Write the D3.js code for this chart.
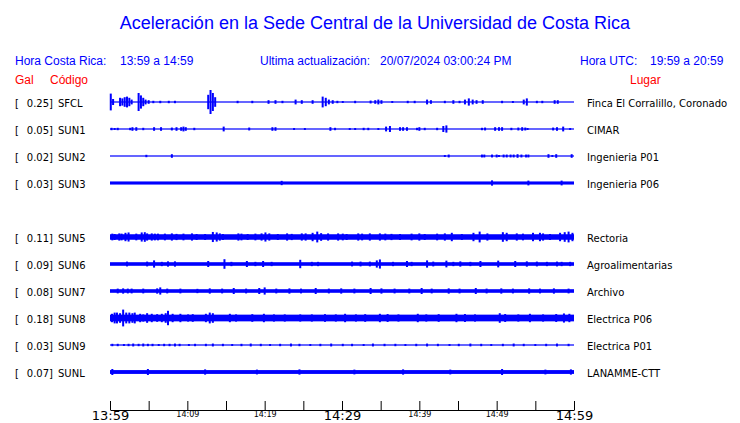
<!DOCTYPE html>
<html><head><meta charset="utf-8">
<script src="https://cdn.jsdelivr.net/npm/d3@7"></script>
<style>body{margin:0;background:#fff}svg{display:block}</style>
</head><body>
<script>
// ---------- DATA ----------
const title = "Aceleración en la Sede Central de la Universidad de Costa Rica";
const horaCR = "13:59 a 14:59";
const actualizacion = "20/07/2024 03:00:24 PM";
const horaUTC = "19:59 a 20:59";
const stations = ["SFCL","SUN1","SUN2","SUN3","SUN5","SUN6","SUN7","SUN8","SUN9","SUNL"];
const gals = [0.25,0.05,0.02,0.03,0.11,0.09,0.08,0.18,0.03,0.07];
const lugares = ["Finca El Corralillo, Coronado","CIMAR","Ingenieria P01","Ingenieria P06","Rectoria","Agroalimentarias","Archivo","Electrica P06","Electrica P01","LANAMME-CTT"];
const tickMinutes = [0,5,10,15,20,25,30,35,40,45,50,55,60];
const tickLabels = ["13:59","","14:09","","14:19","","14:29","","14:39","","14:49","","14:59"];
const majorLabels = ["13:59","14:29","14:59"];
// background noise level (relative amplitude) per station
const baseAmp = [0.05,0.05,0.04,0.13,0.23,0.15,0.15,0.28,0.05,0.16];
// events: [minute after 13:59, relative amplitude]
const evSFCL = [[0.1,0.7],[0.4,0.25],[1.3,0.35],[1.6,0.3],[1.9,0.4],[2.2,0.45],[2.5,0.35],[2.8,0.2],[3.7,0.75],[4.0,0.55],[4.3,0.35],[4.6,0.2],[5.0,0.15],[5.6,0.1],[6.5,0.1],[7.6,0.1],[8.4,0.1],[12.7,0.6],[13.0,1.0],[13.3,0.75],[13.6,0.4],[16.5,0.1],[18.4,0.1],[20.5,0.15],[21.4,0.15],[22.3,0.1],[24.0,0.2],[24.8,0.15],[26.2,0.15],[27.5,0.45],[27.9,0.35],[28.3,0.2],[28.8,0.15],[29.4,0.1],[30.1,0.08],[31.7,0.1],[33.7,0.12],[34.3,0.15],[34.7,0.2],[35.1,0.15],[36.5,0.08],[38.5,0.1],[39.4,0.1],[41.0,0.2],[41.5,0.15],[43.3,0.1],[44.4,0.15],[45.2,0.1],[45.9,0.2],[46.4,0.3],[46.9,0.2],[47.4,0.15],[48.2,0.15],[50.7,0.1],[52.1,0.08],[53.5,0.2],[53.9,0.3],[55.2,0.1],[55.9,0.1],[57.5,0.15],[57.9,0.15]];
const evSUN1 = [[0.2,0.1],[0.6,0.08],[1.0,0.1],[2.6,0.1],[2.9,0.15],[3.4,0.15],[4.3,0.1],[5.7,0.15],[6.6,0.15],[8.0,0.12],[8.6,0.15],[9.2,0.15],[9.5,0.2],[9.8,0.15],[10.9,0.1],[14.7,0.2],[18.0,0.12],[21.0,0.15],[21.4,0.15],[23.8,0.08],[25.2,0.08],[28.5,0.15],[29.1,0.1],[31.0,0.08],[31.7,0.08],[32.8,0.1],[33.4,0.1],[34.7,0.08],[35.7,0.2],[36.2,0.25],[37.5,0.15],[37.9,0.15],[38.4,0.15],[39.7,0.1],[40.0,0.15],[40.7,0.1],[42.3,0.1],[43.1,0.25],[43.5,0.3],[48.1,0.1],[48.5,0.12],[49.8,0.15],[50.3,0.15],[50.7,0.15],[51.9,0.1],[52.8,0.12],[53.3,0.15],[53.7,0.12],[54.0,0.08],[57.3,0.12],[57.8,0.15],[58.6,0.2],[59.5,0.08]];
const evSUN2 = [[4.7,0.1],[8.0,0.15],[43.3,0.08],[43.8,0.12],[48.1,0.12],[48.4,0.12],[49.4,0.12],[50.0,0.12],[50.3,0.08],[50.9,0.12],[51.3,0.12],[51.8,0.12],[52.2,0.12],[52.7,0.15],[53.2,0.12],[53.8,0.12],[54.1,0.12],[56.7,0.15],[57.2,0.08],[57.7,0.15],[59.7,0.15]];
const evSUN3 = [[22.2,0.18],[49.4,0.22],[54.1,0.2],[58.4,0.2]];
const evSUN5 = [[0.3,0.28],[0.6,0.25],[1.2,0.3],[1.5,0.28],[2.0,0.35],[2.4,0.38],[3.4,0.28],[4.1,0.38],[4.5,0.4],[4.8,0.3],[5.4,0.3],[5.8,0.28],[6.2,0.28],[7.1,0.28],[8.0,0.3],[8.6,0.26],[9.5,0.28],[10.6,0.3],[11.2,0.25],[12.3,0.25],[13.3,0.42],[13.8,0.38],[14.2,0.3],[14.6,0.25],[16.6,0.3],[17.0,0.28],[17.8,0.25],[18.8,0.28],[19.6,0.3],[20.1,0.38],[20.6,0.3],[21.7,0.25],[22.9,0.3],[23.5,0.26],[24.8,0.3],[25.3,0.3],[26.2,0.35],[26.8,0.45],[27.3,0.32],[28.2,0.3],[29.5,0.3],[30.1,0.28],[30.6,0.25],[32.1,0.3],[32.6,0.28],[33.6,0.3],[34.9,0.3],[35.6,0.28],[36.4,0.26],[37.5,0.25],[39.0,0.28],[40.0,0.3],[40.7,0.25],[42.3,0.28],[43.3,0.3],[44.2,0.35],[45.5,0.25],[47.0,0.35],[47.8,0.45],[48.8,0.3],[50.8,0.4],[51.3,0.35],[52.6,0.3],[53.4,0.28],[54.7,0.35],[55.6,0.35],[56.0,0.3],[56.9,0.25],[58.2,0.35],[58.8,0.4],[59.3,0.45],[59.8,0.35]];
const evSUN6 = [[2.2,0.2],[4.8,0.2],[5.7,0.3],[6.7,0.18],[7.5,0.22],[8.4,0.22],[12.7,0.25],[14.8,0.4],[15.7,0.18],[17.7,0.25],[18.8,0.18],[19.8,0.25],[20.9,0.18],[24.6,0.35],[26.1,0.18],[26.9,0.18],[31.3,0.2],[32.4,0.2],[33.6,0.2],[34.5,0.3],[34.9,0.38],[36.6,0.18],[38.4,0.25],[39.0,0.18],[41.0,0.3],[41.8,0.2],[43.5,0.28],[44.4,0.18],[45.3,0.22],[46.6,0.18],[47.9,0.25],[50.2,0.28],[52.4,0.25],[53.9,0.22],[55.2,0.2],[56.5,0.18],[57.8,0.2],[58.4,0.18],[59.5,0.18]];
const evSUN7 = [[1.0,0.2],[1.7,0.22],[2.3,0.2],[2.8,0.2],[4.3,0.2],[6.1,0.22],[6.5,0.3],[7.4,0.2],[9.1,0.2],[11.3,0.18],[12.9,0.22],[14.5,0.2],[16.0,0.25],[17.6,0.2],[19.3,0.25],[20.0,0.3],[21.5,0.2],[23.2,0.22],[24.7,0.2],[26.6,0.25],[28.3,0.2],[29.9,0.22],[31.6,0.2],[33.7,0.25],[35.1,0.22],[36.8,0.2],[38.7,0.2],[40.3,0.25],[41.6,0.2],[43.8,0.22],[45.2,0.2],[47.3,0.25],[48.7,0.2],[50.6,0.22],[52.1,0.2],[54.2,0.22],[55.6,0.2],[57.4,0.22],[59.3,0.2]];
const evSUN8 = [[0.26,0.35],[0.6,0.45],[0.9,0.45],[1.3,0.4],[1.7,0.7],[2.1,0.45],[2.5,0.45],[2.9,0.4],[3.2,0.45],[3.9,0.35],[4.3,0.3],[4.8,0.4],[5.4,0.35],[6.1,0.32],[6.7,0.35],[7.2,0.4],[7.5,0.6],[8.1,0.35],[9.1,0.35],[10.1,0.3],[10.7,0.32],[12.4,0.35],[12.9,0.45],[13.3,0.4],[15.5,0.35],[16.3,0.3],[18.4,0.32],[19.9,0.35],[21.2,0.3],[22.6,0.3],[24.6,0.3],[26.1,0.3],[27.8,0.32],[29.2,0.3],[30.4,0.35],[31.8,0.3],[33.0,0.32],[34.9,0.35],[35.9,0.33],[37.3,0.3],[39.8,0.35],[40.9,0.3],[42.5,0.32],[44.8,0.35],[45.9,0.33],[47.2,0.3],[50.4,0.4],[51.1,0.33],[52.8,0.3],[54.3,0.35],[56.0,0.3],[57.7,0.33],[58.7,0.38],[59.4,0.35]];
const evSUN9 = [[0.3,0.1],[1.0,0.1],[1.8,0.08],[2.4,0.1],[3.0,0.12],[3.7,0.1],[4.3,0.12],[4.9,0.1],[5.5,0.1],[6.3,0.08],[7.0,0.1],[7.7,0.1],[8.4,0.12],[9.0,0.1],[10.2,0.08],[11.0,0.1],[12.4,0.1],[13.3,0.12],[14.6,0.1],[15.8,0.08],[17.0,0.1],[18.2,0.12],[19.5,0.1],[20.7,0.08],[22.0,0.1],[23.4,0.12],[24.5,0.1],[25.9,0.08],[27.2,0.1],[28.6,0.12],[30.1,0.1],[31.3,0.1],[32.8,0.08],[34.0,0.12],[35.5,0.1],[36.9,0.1],[38.2,0.08],[39.6,0.1],[41.0,0.12],[42.4,0.1],[43.9,0.08],[45.1,0.1],[46.6,0.12],[48.0,0.1],[49.3,0.08],[50.8,0.1],[52.2,0.12],[53.5,0.1],[55.0,0.08],[56.4,0.1],[57.8,0.12],[59.3,0.1]];
const evSUNL = [[0.3,0.25],[4.9,0.25],[12.3,0.22],[19.0,0.2],[24.5,0.22],[31.6,0.2],[37.9,0.22],[44.0,0.2],[50.7,0.25],[56.3,0.2],[59.6,0.22]];
const events = [evSFCL,evSUN1,evSUN2,evSUN3,evSUN5,evSUN6,evSUN7,evSUN8,evSUN9,evSUNL];

// ---------- DRAW ----------
const W = 740, H = 423;
const blue = "#0000ff", red = "#ff0000";
const svg = d3.select("body").append("svg").attr("width", W).attr("height", H);

const slots = [...stations.slice(0,4), "__gap__", ...stations.slice(4)];
const x = d3.scaleLinear().domain([0,60]).range([110,574]);
const y = d3.scalePoint().domain(slots).range([102,372]);
const amp = d3.scaleLinear().domain([0,1]).range([0,12]);

const sans = "'Liberation Sans', Arial, sans-serif";
const dv = "'DejaVu Sans', sans-serif";

svg.append("text").attr("x", 375).attr("y", 29).attr("text-anchor","middle")
  .attr("font-family", sans).attr("font-size", 18).attr("fill", blue).text(title);

const hdr = [["Hora Costa Rica:",15],[horaCR,120],["Ultima actualización:",260],[actualizacion,380],["Hora UTC:",580],[horaUTC,650]];
svg.selectAll("text.hdr").data(hdr).join("text").attr("class","hdr")
  .attr("x", d=>d[1]).attr("y", 65).attr("font-family", sans).attr("font-size", 12)
  .attr("fill", blue).text(d=>d[0]);

svg.append("text").attr("x",15).attr("y",84).attr("font-family",sans).attr("font-size",12).attr("fill",red).text("Gal");
svg.append("text").attr("x",50).attr("y",84).attr("font-family",sans).attr("font-size",12).attr("fill",red).text("Código");
svg.append("text").attr("x",630).attr("y",84).attr("font-family",sans).attr("font-size",12).attr("fill",red).text("Lugar");

const rows = svg.selectAll("g.row").data(stations).join("g").attr("class","row")
  .attr("transform", d=>`translate(0,${y(d)})`);

rows.append("text").attr("x",15).attr("y",5).attr("font-family",dv).attr("font-size",10).attr("fill","#000").text("[");
rows.append("text").attr("x",53).attr("y",5).attr("text-anchor","end").attr("font-family",dv).attr("font-size",10).attr("fill","#000")
  .text((d,i)=>gals[i].toFixed(2)+"]");
rows.append("text").attr("x",58).attr("y",5).attr("font-family",dv).attr("font-size",10).attr("fill","#000").text(d=>d);
rows.append("text").attr("x",587).attr("y",5).attr("font-family",dv).attr("font-size",10).attr("fill","#000")
  .text((d,i)=>lugares[i]);

rows.each(function(d,i){
  const g = d3.select(this);
  const bh = Math.max(1.2, 2*amp(baseAmp[i]));
  g.append("rect").attr("x", x(0)).attr("y", -bh/2).attr("width", x(60)-x(0)).attr("height", bh).attr("fill", blue);
  g.selectAll("rect.ev").data(events[i]).join("rect").attr("class","ev")
    .attr("x", e=>x(e[0])-1).attr("width", 2)
    .attr("y", e=>-Math.max(amp(e[1]), bh/2)).attr("height", e=>2*Math.max(amp(e[1]), bh/2))
    .attr("fill", blue);
});

const axis = d3.axisBottom(x).tickValues(tickMinutes).tickSizeInner(-9).tickSizeOuter(0).tickPadding(1)
  .tickFormat((d,i)=>tickLabels[i]);
const ag = svg.append("g").attr("transform","translate(0,410)").call(axis);
ag.select(".domain").attr("stroke","#000");
ag.selectAll(".tick line").attr("stroke","#000");
ag.selectAll(".tick text").attr("fill","#000").attr("font-family",dv)
  .attr("font-size", (d,i)=> majorLabels.includes(tickLabels[i]) ? 13 : 8);
</script>
</body></html>
